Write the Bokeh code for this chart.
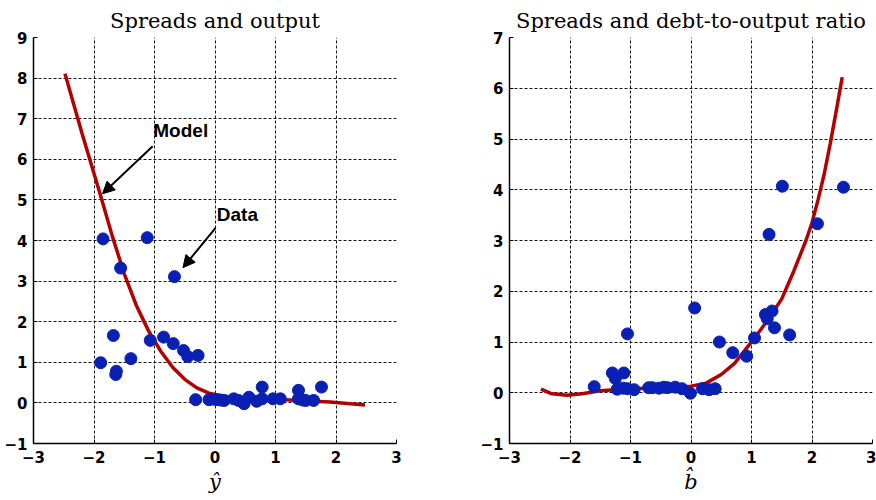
from bokeh.plotting import figure
from bokeh.layouts import row
from bokeh.models import Range1d, FixedTicker, Arrow, NormalHead, Label, CustomJSTickFormatter
from bokeh.embed import file_html
from bokeh.resources import INLINE

# ---- data: left panel (spreads vs output) ----
y_hat_data = [-1.85, -1.12, -1.56, -0.67, -1.68, -1.89, -1.63, -1.64, -1.39, -1.07,
              -0.85, -0.69, -0.52, -0.45, -0.28, -0.32, -0.10, -0.02, 0.04, 0.10,
              0.15, 0.31, 0.39, 0.48, 0.56, 0.69, 0.78, 0.78, 0.96, 1.08,
              1.38, 1.38, 1.45, 1.50, 1.63, 1.76]
spread_y_data = [4.04, 4.07, 3.32, 3.11, 1.66, 0.99, 0.78, 0.70, 1.09, 1.54,
                 1.62, 1.46, 1.29, 1.14, 1.17, 0.08, 0.08, 0.09, 0.08, 0.07,
                 0.06, 0.10, 0.06, -0.02, 0.14, 0.04, 0.10, 0.39, 0.10, 0.10,
                 0.31, 0.10, 0.07, 0.06, 0.06, 0.39]
y_hat_model = [-2.48, -2.2, -1.9, -1.7, -1.5, -1.3, -1.1, -0.9, -0.7, -0.5,
               -0.3, -0.1, 0.1, 0.4, 0.8, 1.4, 1.9, 2.48]
spread_y_model = [8.11, 6.65, 5.15, 4.12, 3.18, 2.40, 1.78, 1.28, 0.88, 0.58,
                  0.37, 0.24, 0.17, 0.13, 0.10, 0.06, 0.02, -0.05]

# ---- data: right panel (spreads vs debt-to-output) ----
b_hat_data = [-1.60, -1.30, -1.11, -1.25, -1.05, -1.22, -1.12, -1.05, -0.94, -0.70,
              -0.64, -0.53, -0.45, -0.39, -0.26, -0.15, -0.01, 0.06, 0.19, 0.30,
              0.40, 0.47, 0.69, 0.92, 1.05, 1.23, 1.34, 1.26, 1.38, 1.63,
              1.29, 1.51, 2.09, 2.52]
spread_b_data = [0.12, 0.39, 0.39, 0.28, 1.16, 0.07, 0.09, 0.08, 0.06, 0.10,
                 0.10, 0.09, 0.11, 0.10, 0.11, 0.08, -0.01, 1.67, 0.08, 0.06,
                 0.08, 1.00, 0.79, 0.72, 1.08, 1.54, 1.61, 1.46, 1.28, 1.14,
                 3.12, 4.07, 3.33, 4.05]
b_hat_model = [-2.48, -2.3, -2.05, -1.8, -1.5, -1.0, -0.5, 0.0, 0.25, 0.5,
               0.72, 1.04, 1.26, 1.5, 1.7, 1.9, 2.0, 2.1, 2.2, 2.3, 2.4, 2.5]
spread_b_model = [0.07, -0.02, -0.05, -0.02, 0.04, 0.08, 0.10, 0.13, 0.19, 0.36,
                  0.58, 1.06, 1.42, 1.85, 2.40, 3.00, 3.35, 3.80, 4.30, 4.90, 5.55, 6.22]

x_ticks = [-3, -2, -1, 0, 1, 2, 3]
left_y_ticks = [-1, 0, 1, 2, 3, 4, 5, 6, 7, 8, 9]
right_y_ticks = [-1, 0, 1, 2, 3, 4, 5, 6, 7]

titles = ["Spreads and output", "Spreads and debt-to-output ratio"]
x_labels = ["\u0177", "b\u0302"]

BLUE = "#0a1fb4"
RED = "#b30000"

FMT_CODE = "return String(tick).replace('-', '\u2212');"


def panel(title, xlabel, yticks, xd, yd, xm, ym, bl, br):
    p = figure(frame_width=363, frame_height=406,
               min_border_left=bl, min_border_right=br,
               min_border_top=37, min_border_bottom=57,
               x_range=Range1d(x_ticks[0], x_ticks[-1]),
               y_range=Range1d(yticks[0], yticks[-1]),
               output_backend="svg", toolbar_location=None, title=title)
    p.title.text_font = "DejaVu Serif"
    p.title.text_font_size = "21px"
    p.title.text_font_style = "normal"
    p.title.text_color = "black"
    p.title.align = "center"
    p.title.standoff = 10
    p.outline_line_color = None
    p.background_fill_color = "white"
    p.border_fill_color = "white"

    p.xaxis.ticker = FixedTicker(ticks=x_ticks)
    p.yaxis.ticker = FixedTicker(ticks=yticks)
    p.axis.formatter = CustomJSTickFormatter(code=FMT_CODE)
    p.axis.major_label_text_font = "DejaVu Sans"
    p.axis.major_label_text_font_style = "bold"
    p.axis.major_label_text_font_size = "15px"
    p.axis.major_label_text_color = "black"
    p.axis.major_tick_out = 0
    p.axis.major_tick_in = 4
    p.axis.minor_tick_out = 0
    p.axis.minor_tick_in = 0
    p.axis.axis_line_color = "black"
    p.axis.axis_line_width = 1.5
    p.axis.major_tick_line_color = "black"
    p.yaxis.major_label_standoff = 6
    p.xaxis.major_label_standoff = 7
    p.xaxis.axis_label = xlabel
    p.xaxis.axis_label_text_font = "DejaVu Serif"
    p.xaxis.axis_label_text_font_style = "italic"
    p.xaxis.axis_label_text_font_size = "21px"
    p.xaxis.axis_label_text_color = "black"
    p.xaxis.axis_label_standoff = 4

    p.xgrid.ticker = FixedTicker(ticks=x_ticks)
    p.ygrid.ticker = FixedTicker(ticks=yticks)
    p.grid.grid_line_color = "black"
    p.grid.grid_line_dash = "3 2"
    p.grid.grid_line_width = 1
    p.grid.grid_line_alpha = 0.9

    p.line(xm, ym, color=RED, line_width=3.5)
    p.scatter(xd, yd, size=12, fill_color=BLUE, line_color=BLUE)
    return p


p1 = panel(titles[0], x_labels[0], left_y_ticks, y_hat_data, spread_y_data,
           y_hat_model, spread_y_model, 33, 44)
p2 = panel(titles[1], x_labels[1], right_y_ticks, b_hat_data, spread_b_data,
           b_hat_model, spread_b_model, 69, 4)

# annotations on left panel
p1.add_layout(Label(x=-1.02, y=6.44, text="Model", text_font="Liberation Sans",
                    text_font_style="bold", text_font_size="19px", text_color="black"))
p1.add_layout(Label(x=0.03, y=4.37, text="Data", text_font="Liberation Sans",
                    text_font_style="bold", text_font_size="19px", text_color="black"))
p1.add_layout(Arrow(end=NormalHead(size=12, fill_color="black", line_color="black"),
                    x_start=-1.03, y_start=6.32, x_end=-1.86, y_end=5.15,
                    line_width=2, line_color="black"))
p1.add_layout(Arrow(end=NormalHead(size=12, fill_color="black", line_color="black"),
                    x_start=0.01, y_start=4.31, x_end=-0.53, y_end=3.33,
                    line_width=2, line_color="black"))

layout = row(p1, p2)
open("out.html", "w").write(file_html(layout, INLINE))
